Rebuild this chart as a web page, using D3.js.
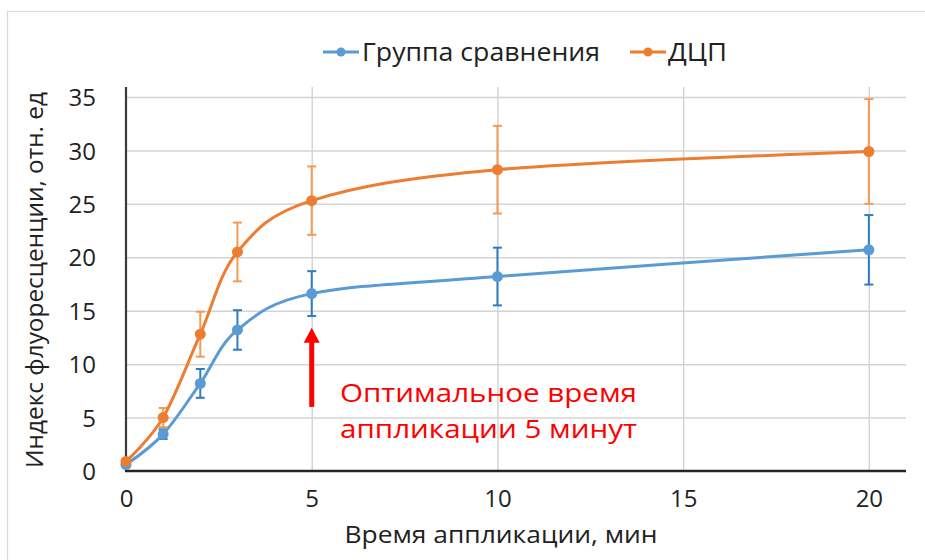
<!DOCTYPE html>
<html lang="ru">
<head>
<meta charset="utf-8">
<script src="https://cdn.jsdelivr.net/npm/d3@7/dist/d3.min.js"></script>
<style>
  html, body { margin: 0; padding: 0; background: #ffffff; }
  svg { display: block; font-family: "Open Sans", "DejaVu Sans", sans-serif; }
</style>
</head>
<body>
<svg id="chart" width="925" height="560"></svg>
<script>
// Время аппликации (мин)
const times = [0, 1, 2, 3, 5, 10, 20];
// Индекс флуоресценции, отн. ед — средние значения и отклонения
const comparisonMean = [0.6, 3.45, 8.2, 13.2, 16.6, 18.2, 20.7];
const comparisonErr  = [0.3, 0.45, 1.35, 1.85, 2.1, 2.7, 3.25];
const cpMean = [0.9, 5.0, 12.8, 20.5, 25.3, 28.2, 29.9];
const cpErr  = [0.3, 0.9, 2.1, 2.75, 3.2, 4.1, 4.9];
const seriesNames = ["Группа сравнения", "ДЦП"];
const xTicks = [0, 5, 10, 15, 20];
const yTicks = [0, 5, 10, 15, 20, 25, 30, 35];
// Стрелка «оптимальное время»: x = 5 мин, от 6 до 13.4 отн. ед
const arrowX = 5, arrowFrom = 6, arrowTo = 13.4;
const noteLines = ["Оптимальное время", "аппликации 5 минут"];

const svg = d3.select("#chart");

const x = d3.scaleLinear().domain([0, 21]).range([126, 906]);
const y = d3.scaleLinear().domain([0, 35]).range([471, 97]);
const plotTop = 87;

// рамка области диаграммы
svg.append("rect")
  .attr("x", 7.5).attr("y", 11.5)
  .attr("width", 960).attr("height", 600)
  .attr("fill", "none").attr("stroke", "#d9d9d9").attr("stroke-width", 1.2);

// горизонтальная сетка
svg.append("g")
  .attr("transform", `translate(${x(0)},0)`)
  .call(d3.axisRight(y).tickValues(yTicks.filter(v => v > 0)).tickSize(x(21) - x(0)).tickFormat(""))
  .call(g => g.select(".domain").remove())
  .call(g => g.selectAll("line").attr("stroke", "#d4d4d4").attr("stroke-width", 1.5));

// вертикальная сетка
svg.append("g")
  .attr("transform", `translate(0,${y(0)})`)
  .call(d3.axisTop(x).tickValues(xTicks.filter(v => v > 0)).tickSize(y(0) - plotTop).tickFormat(""))
  .call(g => g.select(".domain").remove())
  .call(g => g.selectAll("line").attr("stroke", "#d4d4d4").attr("stroke-width", 1.5));

// ось Y
const yAxis = svg.append("g")
  .attr("transform", `translate(${x(0)},0)`)
  .call(d3.axisLeft(y).tickValues(yTicks).tickSize(0).tickPadding(30));
yAxis.select(".domain").remove();
yAxis.selectAll("text").attr("font-size", 24).attr("fill", "#222").attr("font-family", "Open Sans").attr("dy", "0.36em");
svg.append("line")
  .attr("x1", x(0)).attr("x2", x(0)).attr("y1", plotTop).attr("y2", y(0) + 1)
  .attr("stroke", "#3a3a3a").attr("stroke-width", 2.2);

// ось X
const xAxis = svg.append("g")
  .attr("transform", `translate(0,${y(0)})`)
  .call(d3.axisBottom(x).tickValues(xTicks).tickSize(0).tickPadding(27));
xAxis.select(".domain").remove();
xAxis.selectAll("text").attr("font-size", 24).attr("fill", "#222").attr("font-family", "Open Sans").attr("dy", "0.36em");
svg.append("line")
  .attr("x1", x(0) - 1).attr("x2", x(21)).attr("y1", y(0)).attr("y2", y(0))
  .attr("stroke", "#262626").attr("stroke-width", 2.6);

// подписи осей
svg.append("text")
  .attr("x", 501).attr("y", 543)
  .attr("text-anchor", "middle").attr("font-size", 24).attr("fill", "#222")
  .attr("textLength", 313).attr("lengthAdjust", "spacingAndGlyphs")
  .text("Время аппликации, мин");

svg.append("text")
  .attr("transform", "translate(43,280) rotate(-90)")
  .attr("text-anchor", "middle").attr("font-size", 24).attr("fill", "#222")
  .attr("textLength", 376).attr("lengthAdjust", "spacingAndGlyphs")
  .text("Индекс флуоресценции, отн. ед");

// ряды данных
const series = [
  { name: seriesNames[0], mean: comparisonMean, err: comparisonErr, color: "#5b9bd5", errColor: "#2e7bc4" },
  { name: seriesNames[1], mean: cpMean, err: cpErr, color: "#ed7d31", errColor: "#f49a52" }
];

const line = d3.line()
  .x(d => x(d.t)).y(d => y(d.v))
  .curve(d3.curveCardinal.tension(0));

series.forEach(s => {
  const pts = times.map((t, i) => ({ t, v: s.mean[i], e: s.err[i] }));
  const g = svg.append("g");

  // планки погрешностей
  const eb = g.selectAll(".eb").data(pts.filter(p => p.t > 0)).join("g")
    .attr("stroke", s.errColor).attr("stroke-width", 2);
  eb.append("line")
    .attr("x1", d => x(d.t)).attr("x2", d => x(d.t))
    .attr("y1", d => y(d.v + d.e)).attr("y2", d => y(d.v - d.e));
  eb.append("line")
    .attr("x1", d => x(d.t) - 4.5).attr("x2", d => x(d.t) + 4.5)
    .attr("y1", d => y(d.v + d.e)).attr("y2", d => y(d.v + d.e));
  eb.append("line")
    .attr("x1", d => x(d.t) - 4.5).attr("x2", d => x(d.t) + 4.5)
    .attr("y1", d => y(d.v - d.e)).attr("y2", d => y(d.v - d.e));

  g.append("path")
    .datum(pts)
    .attr("d", line)
    .attr("fill", "none").attr("stroke", s.color).attr("stroke-width", 3)
    .attr("stroke-linecap", "round");

  g.selectAll(".pt").data(pts).join("circle")
    .attr("cx", d => x(d.t)).attr("cy", d => y(d.v)).attr("r", 5.5)
    .attr("fill", s.color);
});

// легенда
const legendItems = [
  { name: seriesNames[0], color: series[0].color, x1: 323, x2: 359, tx: 362, w: 238 },
  { name: seriesNames[1], color: series[1].color, x1: 630, x2: 666, tx: 668, w: 59 }
];
const lg = svg.append("g");
legendItems.forEach(it => {
  lg.append("line").attr("x1", it.x1).attr("x2", it.x2).attr("y1", 52).attr("y2", 52)
    .attr("stroke", it.color).attr("stroke-width", 3);
  lg.append("circle").attr("cx", (it.x1 + it.x2) / 2).attr("cy", 52).attr("r", 4.5).attr("fill", it.color);
  lg.append("text").attr("x", it.tx).attr("y", 61)
    .attr("font-size", 25).attr("fill", "#222")
    .attr("textLength", it.w).attr("lengthAdjust", "spacingAndGlyphs")
    .text(it.name);
});

// стрелка и надпись
const ax = x(arrowX), yFrom = y(arrowFrom), yTo = y(arrowTo);
svg.append("line")
  .attr("x1", ax).attr("x2", ax).attr("y1", yFrom).attr("y2", yTo + 12)
  .attr("stroke", "#ff0000").attr("stroke-width", 5);
svg.append("path")
  .attr("d", `M${ax},${yTo} L${ax + 8},${yTo + 15} L${ax - 8},${yTo + 15} Z`)
  .attr("fill", "#ff0000");

svg.append("g").selectAll("text").data(noteLines).join("text")
  .attr("x", 340).attr("y", (d, i) => 402 + i * 36)
  .attr("font-size", 26).attr("fill", "#ff0000")
  .attr("textLength", 297).attr("lengthAdjust", "spacingAndGlyphs")
  .text(d => d);
</script>
</body>
</html>
